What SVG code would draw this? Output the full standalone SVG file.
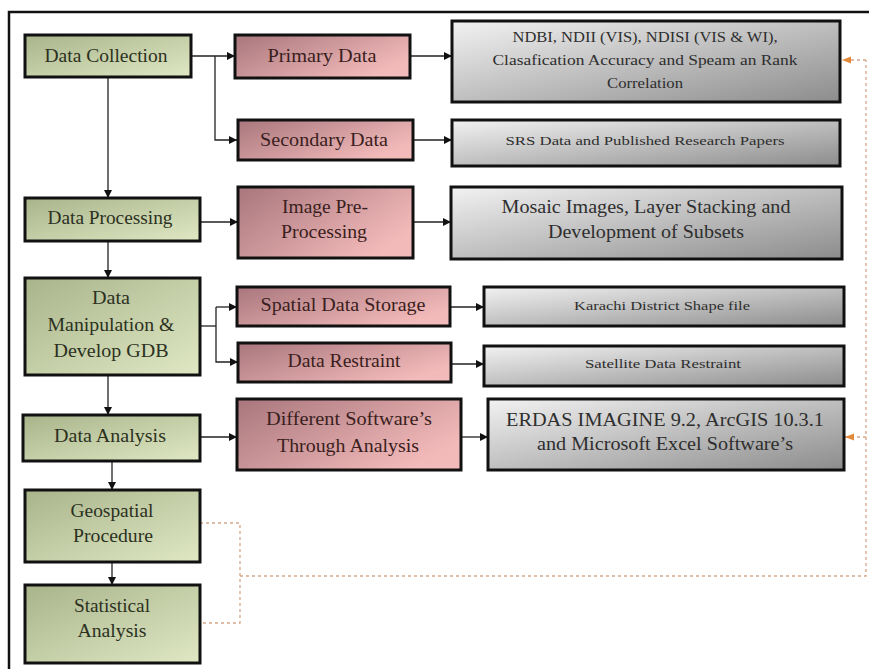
<svg xmlns="http://www.w3.org/2000/svg" width="869" height="669" viewBox="0 0 869 669">
<defs>
<linearGradient id="gGreen" x1="0" y1="0" x2="1" y2="1">
<stop offset="0" stop-color="#a9b48b"/>
<stop offset="1" stop-color="#dfe8c3"/>
</linearGradient>
<linearGradient id="gPink" x1="0" y1="0" x2="1" y2="0.6">
<stop offset="0" stop-color="#a8767c"/>
<stop offset="1" stop-color="#f3baba"/>
</linearGradient>
<linearGradient id="gGrey" x1="0" y1="0" x2="1" y2="1">
<stop offset="0" stop-color="#f2f2f2"/>
<stop offset="1" stop-color="#8c8c8c"/>
</linearGradient>
<marker id="arr" viewBox="0 0 10 10" refX="10" refY="5" markerWidth="8" markerHeight="8" markerUnits="userSpaceOnUse" orient="auto">
<path d="M0,0 L10,5 L0,10 z" fill="#111"/>
</marker>
<marker id="arrO" viewBox="0 0 10 10" refX="10" refY="5" markerWidth="9" markerHeight="9" markerUnits="userSpaceOnUse" orient="auto">
<path d="M0,1 L10,5 L0,9 z" fill="#e2893a"/>
</marker>
<style>
.box{stroke:#111;stroke-width:3}
.g{fill:url(#gGreen)}
.p{fill:url(#gPink)}
.s{fill:url(#gGrey)}
text{font-family:"Liberation Serif","Times New Roman",serif;text-anchor:middle}
.tg{fill:#2c311f}
.tp{fill:#3a1e20}
.ts{fill:#2e2e2e}
.ln{fill:none;stroke:#222;stroke-width:1.3}
.dl{fill:none;stroke:#d4a688;stroke-width:1.3;stroke-dasharray:3,3}
</style>
</defs>
<rect x="0" y="0" width="869" height="669" fill="#ffffff"/>
<path d="M869,12 H9 V669" fill="none" stroke="#111" stroke-width="2.5"/>

<g id="connectors">
<path class="ln" d="M191,56 H235" marker-end="url(#arr)"/>
<path class="ln" d="M215,56 V140 H237" marker-end="url(#arr)"/>
<path class="ln" d="M108,77 V198" marker-end="url(#arr)"/>
<path class="ln" d="M410,56 H452" marker-end="url(#arr)"/>
<path class="ln" d="M413,140 H452" marker-end="url(#arr)"/>
<path class="ln" d="M200,222 H238" marker-end="url(#arr)"/>
<path class="ln" d="M413,222 H451" marker-end="url(#arr)"/>
<path class="ln" d="M108,241 V278" marker-end="url(#arr)"/>
<path class="ln" d="M200,326 H216"/>
<path class="ln" d="M216,307 H237" marker-end="url(#arr)"/>
<path class="ln" d="M216,307 V362 H238" marker-end="url(#arr)"/>
<path class="ln" d="M450,307 H484" marker-end="url(#arr)"/>
<path class="ln" d="M451,364 H484" marker-end="url(#arr)"/>
<path class="ln" d="M108,375 V415" marker-end="url(#arr)"/>
<path class="ln" d="M200,437 H237" marker-end="url(#arr)"/>
<path class="ln" d="M461,437 H488" marker-end="url(#arr)"/>
<path class="ln" d="M112,461 V490" marker-end="url(#arr)"/>
<path class="ln" d="M112,562 V585" marker-end="url(#arr)"/>
<path class="dl" d="M200,523 H240 V623 H200"/>
<path class="dl" d="M240,576 H866 V60"/>
<path class="dl" d="M866,60 H842" marker-end="url(#arrO)"/>
<path class="dl" d="M866,437 H845" marker-end="url(#arrO)"/>
</g>

<g id="data-collection">
<rect class="box g" x="25" y="35" width="166" height="42"/>
<text class="tg" x="106" y="62" font-size="18" textLength="123" lengthAdjust="spacingAndGlyphs">Data Collection</text>
</g>
<g id="data-processing">
<rect class="box g" x="25" y="198" width="175" height="43"/>
<text class="tg" x="110" y="224" font-size="18" textLength="125" lengthAdjust="spacingAndGlyphs">Data Processing</text>
</g>
<g id="data-manipulation">
<rect class="box g" x="25" y="278" width="175" height="97"/>
<text class="tg" x="111" y="304" font-size="18" textLength="38" lengthAdjust="spacingAndGlyphs">Data</text>
<text class="tg" x="111" y="331" font-size="18" textLength="127" lengthAdjust="spacingAndGlyphs">Manipulation &amp;</text>
<text class="tg" x="111" y="357" font-size="18" textLength="115" lengthAdjust="spacingAndGlyphs">Develop GDB</text>
</g>
<g id="data-analysis">
<rect class="box g" x="23" y="415" width="177" height="46"/>
<text class="tg" x="110" y="442" font-size="18" textLength="112" lengthAdjust="spacingAndGlyphs">Data Analysis</text>
</g>
<g id="geospatial-procedure">
<rect class="box g" x="25" y="490" width="175" height="72"/>
<text class="tg" x="112" y="517" font-size="18" textLength="83" lengthAdjust="spacingAndGlyphs">Geospatial</text>
<text class="tg" x="113" y="542" font-size="18" textLength="80" lengthAdjust="spacingAndGlyphs">Procedure</text>
</g>
<g id="statistical-analysis">
<rect class="box g" x="25" y="585" width="175" height="78"/>
<text class="tg" x="112" y="612" font-size="18" textLength="76" lengthAdjust="spacingAndGlyphs">Statistical</text>
<text class="tg" x="112" y="637" font-size="18" textLength="69" lengthAdjust="spacingAndGlyphs">Analysis</text>
</g>

<g id="primary-data">
<rect class="box p" x="235" y="35" width="175" height="43"/>
<text class="tp" x="322" y="62" font-size="18" textLength="109" lengthAdjust="spacingAndGlyphs">Primary Data</text>
</g>
<g id="secondary-data">
<rect class="box p" x="238" y="120" width="175" height="40"/>
<text class="tp" x="324" y="146" font-size="18" textLength="128" lengthAdjust="spacingAndGlyphs">Secondary Data</text>
</g>
<g id="image-pre-processing">
<rect class="box p" x="238" y="187" width="175" height="71"/>
<text class="tp" x="325" y="213" font-size="18" textLength="86" lengthAdjust="spacingAndGlyphs">Image Pre-</text>
<text class="tp" x="324" y="238" font-size="18" textLength="86" lengthAdjust="spacingAndGlyphs">Processing</text>
</g>
<g id="spatial-data-storage">
<rect class="box p" x="237" y="287" width="213" height="39"/>
<text class="tp" x="343" y="311" font-size="18" textLength="165" lengthAdjust="spacingAndGlyphs">Spatial Data Storage</text>
</g>
<g id="data-restraint">
<rect class="box p" x="238" y="343" width="213" height="39"/>
<text class="tp" x="344" y="367" font-size="18" textLength="113" lengthAdjust="spacingAndGlyphs">Data Restraint</text>
</g>
<g id="different-softwares">
<rect class="box p" x="237" y="399" width="224" height="71"/>
<text class="tp" x="349" y="425" font-size="18" textLength="166" lengthAdjust="spacingAndGlyphs">Different Software’s</text>
<text class="tp" x="348" y="452" font-size="18" textLength="142" lengthAdjust="spacingAndGlyphs">Through Analysis</text>
</g>

<g id="indices">
<rect class="box s" x="452" y="21" width="388" height="81"/>
<text class="ts" x="645" y="42" font-size="14" textLength="265" lengthAdjust="spacingAndGlyphs">NDBI, NDII (VIS), NDISI (VIS &amp; WI),</text>
<text class="ts" x="645" y="65" font-size="14" textLength="305" lengthAdjust="spacingAndGlyphs">Clasafication Accuracy and Speam an Rank</text>
<text class="ts" x="645" y="88" font-size="14" textLength="76" lengthAdjust="spacingAndGlyphs">Correlation</text>
</g>
<g id="srs-data">
<rect class="box s" x="452" y="120" width="388" height="46"/>
<text class="ts" x="645" y="145" font-size="13" textLength="279" lengthAdjust="spacingAndGlyphs">SRS Data and Published Research Papers</text>
</g>
<g id="mosaic">
<rect class="box s" x="451" y="187" width="391" height="72"/>
<text class="ts" x="646" y="213" font-size="19" textLength="289" lengthAdjust="spacingAndGlyphs">Mosaic Images, Layer Stacking and</text>
<text class="ts" x="646" y="238" font-size="19" textLength="196" lengthAdjust="spacingAndGlyphs">Development of Subsets</text>
</g>
<g id="karachi-shape">
<rect class="box s" x="484" y="287" width="360" height="39"/>
<text class="ts" x="662" y="310" font-size="13" textLength="176" lengthAdjust="spacingAndGlyphs">Karachi District Shape file</text>
</g>
<g id="satellite-restraint">
<rect class="box s" x="484" y="346" width="360" height="40"/>
<text class="ts" x="663" y="368" font-size="13" textLength="156" lengthAdjust="spacingAndGlyphs">Satellite Data Restraint</text>
</g>
<g id="erdas">
<rect class="box s" x="488" y="399" width="356" height="71"/>
<text class="ts" x="665" y="426" font-size="19" textLength="318" lengthAdjust="spacingAndGlyphs">ERDAS IMAGINE 9.2, ArcGIS 10.3.1</text>
<text class="ts" x="665" y="450" font-size="19" textLength="256" lengthAdjust="spacingAndGlyphs">and Microsoft Excel Software’s</text>
</g>
</svg>
